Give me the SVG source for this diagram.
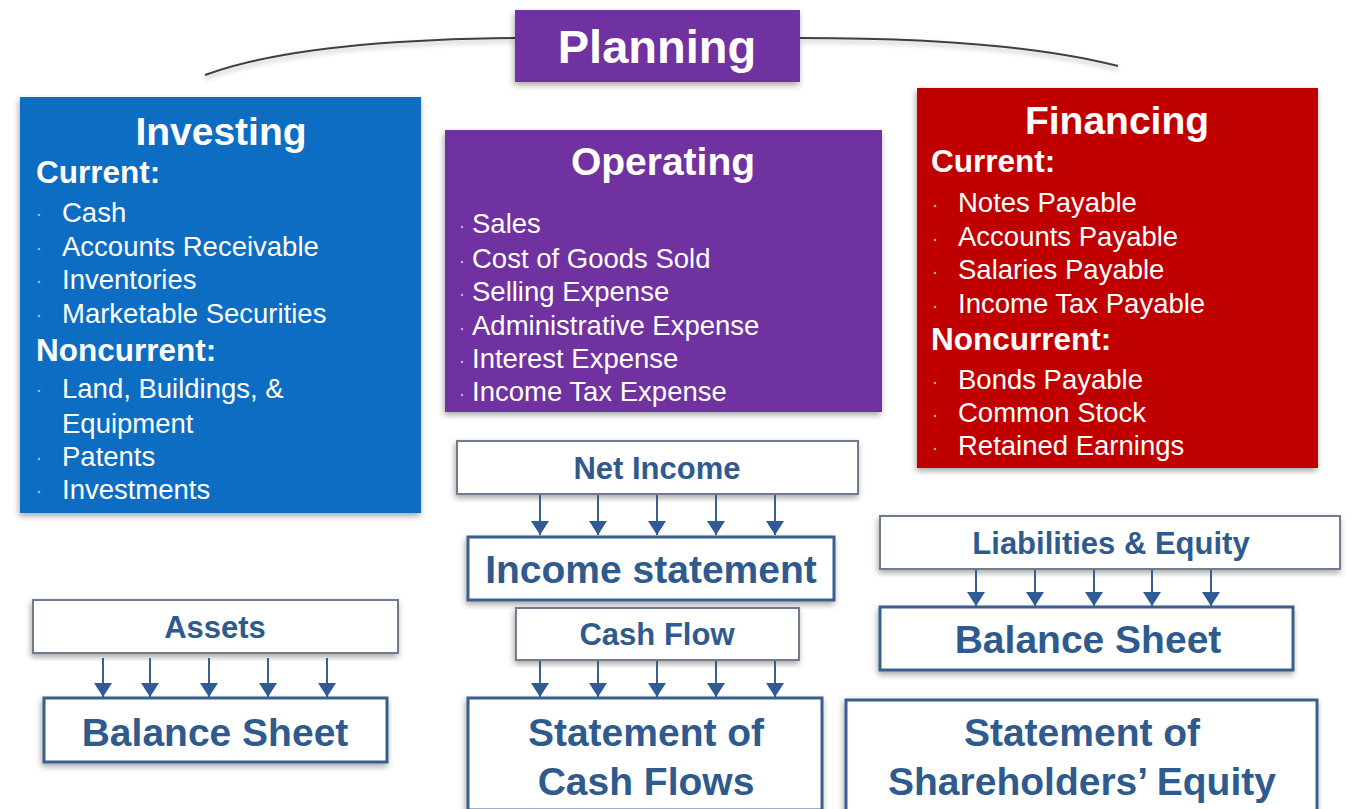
<svg xmlns="http://www.w3.org/2000/svg" width="1351" height="809" viewBox="0 0 1351 809">
<defs>
<filter id="sh" x="-10%" y="-10%" width="120%" height="125%">
<feDropShadow dx="-1" dy="3" stdDeviation="3" flood-color="#000" flood-opacity="0.35"/>
</filter>
<filter id="sh2" x="-5%" y="-100%" width="110%" height="300%">
<feDropShadow dx="0" dy="3" stdDeviation="2.5" flood-color="#000" flood-opacity="0.3"/>
</filter>
<marker id="ah" markerUnits="userSpaceOnUse" markerWidth="16" markerHeight="18" refX="14" refY="9" orient="auto">
<path d="M0,0 L14,9 L0,18 z" fill="#2F5C96"/>
</marker>
</defs>
<style>
.t{font-family:"Liberation Sans",Arial,sans-serif;}
.w{fill:#fff;}
.h{font-weight:bold;font-size:39px;text-anchor:middle;}
.sub{font-weight:bold;font-size:31.5px;}
.it{font-size:27.5px;}
.lbl{font-weight:bold;font-size:31px;fill:#2F5A8E;text-anchor:middle;}
.big{font-weight:bold;font-size:39px;fill:#2F5A8E;text-anchor:middle;}
.wb{fill:#fff;stroke:#6F7C8E;stroke-width:2;}
.bb{fill:#fff;stroke:#3B5F8D;stroke-width:3;}
.conn line{stroke:#3A5F8E;stroke-width:2;marker-end:url(#ah);}
.arc{fill:none;stroke:#3a3f48;stroke-width:2;}
.dot{fill:#9fb7cf;}
</style>
<rect width="1351" height="809" fill="#fff"/>

<g id="arcs" filter="url(#sh2)">
<path class="arc" d="M205,75 Q300,40 515,38"/>
<path class="arc" d="M800,38 Q1010,38 1118,66"/>
</g>

<g id="planning">
<rect x="515" y="10" width="285" height="72" fill="#7030A0" filter="url(#sh)"/>
<text class="t w" x="657" y="63" font-size="47" font-weight="bold" text-anchor="middle">Planning</text>
</g>

<g id="investing">
<rect x="20" y="97" width="401" height="416" fill="#0A6DC2" filter="url(#sh)"/>
<text class="t w h" x="221" y="145">Investing</text>
<text class="t w sub" x="36" y="183">Current:</text>
<g class="dot"><circle cx="39" cy="215" r="1.3"/><circle cx="39" cy="249" r="1.3"/><circle cx="39" cy="282" r="1.3"/><circle cx="39" cy="316" r="1.3"/><circle cx="39" cy="391" r="1.3"/><circle cx="39" cy="459" r="1.3"/><circle cx="39" cy="492" r="1.3"/></g>
<text class="t w it" x="62" y="222">Cash</text>
<text class="t w it" x="62" y="256">Accounts Receivable</text>
<text class="t w it" x="62" y="289">Inventories</text>
<text class="t w it" x="62" y="323">Marketable Securities</text>
<text class="t w sub" x="36" y="361">Noncurrent:</text>
<text class="t w it" x="62" y="398">Land, Buildings, &amp;</text>
<text class="t w it" x="62" y="433">Equipment</text>
<text class="t w it" x="62" y="466">Patents</text>
<text class="t w it" x="62" y="499">Investments</text>
</g>

<g id="operating">
<rect x="445" y="130" width="437" height="282" fill="#7030A0" filter="url(#sh)"/>
<text class="t w h" x="663" y="175">Operating</text>
<g class="dot"><circle cx="462" cy="227" r="1.3"/><circle cx="462" cy="262" r="1.3"/><circle cx="462" cy="295" r="1.3"/><circle cx="462" cy="329" r="1.3"/><circle cx="462" cy="362" r="1.3"/><circle cx="462" cy="395" r="1.3"/></g>
<text class="t w it" x="472" y="233">Sales</text>
<text class="t w it" x="472" y="268">Cost of Goods Sold</text>
<text class="t w it" x="472" y="301">Selling Expense</text>
<text class="t w it" x="472" y="335">Administrative Expense</text>
<text class="t w it" x="472" y="368">Interest Expense</text>
<text class="t w it" x="472" y="401">Income Tax Expense</text>
</g>

<g id="financing">
<rect x="917" y="88" width="401" height="380" fill="#C00000" filter="url(#sh)"/>
<text class="t w h" x="1117" y="134">Financing</text>
<text class="t w sub" x="931" y="172">Current:</text>
<g fill="#c9a27a"><circle cx="935" cy="206" r="1.3"/><circle cx="935" cy="240" r="1.3"/><circle cx="935" cy="273" r="1.3"/><circle cx="935" cy="307" r="1.3"/><circle cx="935" cy="383" r="1.3"/><circle cx="935" cy="416" r="1.3"/><circle cx="935" cy="449" r="1.3"/></g>
<text class="t w it" x="958" y="212">Notes Payable</text>
<text class="t w it" x="958" y="246">Accounts Payable</text>
<text class="t w it" x="958" y="279">Salaries Payable</text>
<text class="t w it" x="958" y="313">Income Tax Payable</text>
<text class="t w sub" x="931" y="350">Noncurrent:</text>
<text class="t w it" x="958" y="389">Bonds Payable</text>
<text class="t w it" x="958" y="422">Common Stock</text>
<text class="t w it" x="958" y="455">Retained Earnings</text>
</g>

<g id="net-income">
<rect class="wb" x="457" y="441" width="401" height="53" filter="url(#sh)"/>
<text class="t lbl" x="657" y="479">Net Income</text>
</g>
<g id="income-statement">
<rect class="bb" x="468" y="537" width="366" height="63" filter="url(#sh)"/>
<text class="t big" x="651" y="583">Income statement</text>
</g>
<g id="cash-flow">
<rect class="wb" x="516" y="608" width="283" height="52" filter="url(#sh)"/>
<text class="t lbl" x="657" y="645">Cash Flow</text>
</g>
<g id="statement-cash-flows">
<rect class="bb" x="468" y="698" width="354" height="112" filter="url(#sh)"/>
<text class="t big" x="646" y="746">Statement of</text>
<text class="t big" x="646" y="795">Cash Flows</text>
</g>

<g id="assets">
<rect class="wb" x="33" y="600" width="365" height="53" filter="url(#sh)"/>
<text class="t lbl" x="215" y="638">Assets</text>
</g>
<g id="balance-sheet-left">
<rect class="bb" x="44" y="698" width="343" height="64" filter="url(#sh)"/>
<text class="t big" x="215" y="746">Balance Sheet</text>
</g>

<g id="liabilities-equity">
<rect class="wb" x="880" y="516" width="460" height="53" filter="url(#sh)"/>
<text class="t lbl" x="1111" y="554">Liabilities &amp; Equity</text>
</g>
<g id="balance-sheet-right">
<rect class="bb" x="880" y="607" width="413" height="63" filter="url(#sh)"/>
<text class="t big" x="1088" y="653">Balance Sheet</text>
</g>
<g id="statement-shareholders-equity">
<rect class="bb" x="846" y="700" width="471" height="112" filter="url(#sh)"/>
<text class="t big" x="1082" y="746">Statement of</text>
<text class="t big" x="1082" y="795">Shareholders’ Equity</text>
</g>

<g id="connectors" class="conn">
<line x1="540" y1="495" x2="540" y2="535"/>
<line x1="598" y1="495" x2="598" y2="535"/>
<line x1="657" y1="495" x2="657" y2="535"/>
<line x1="716" y1="495" x2="716" y2="535"/>
<line x1="775" y1="495" x2="775" y2="535"/>
<line x1="540" y1="661" x2="540" y2="697"/>
<line x1="598" y1="661" x2="598" y2="697"/>
<line x1="657" y1="661" x2="657" y2="697"/>
<line x1="716" y1="661" x2="716" y2="697"/>
<line x1="775" y1="661" x2="775" y2="697"/>
<line x1="103" y1="658" x2="103" y2="697"/>
<line x1="150" y1="658" x2="150" y2="697"/>
<line x1="209" y1="658" x2="209" y2="697"/>
<line x1="268" y1="658" x2="268" y2="697"/>
<line x1="327" y1="658" x2="327" y2="697"/>
<line x1="976" y1="570" x2="976" y2="606"/>
<line x1="1035" y1="570" x2="1035" y2="606"/>
<line x1="1094" y1="570" x2="1094" y2="606"/>
<line x1="1152" y1="570" x2="1152" y2="606"/>
<line x1="1211" y1="570" x2="1211" y2="606"/>
</g>
</svg>
